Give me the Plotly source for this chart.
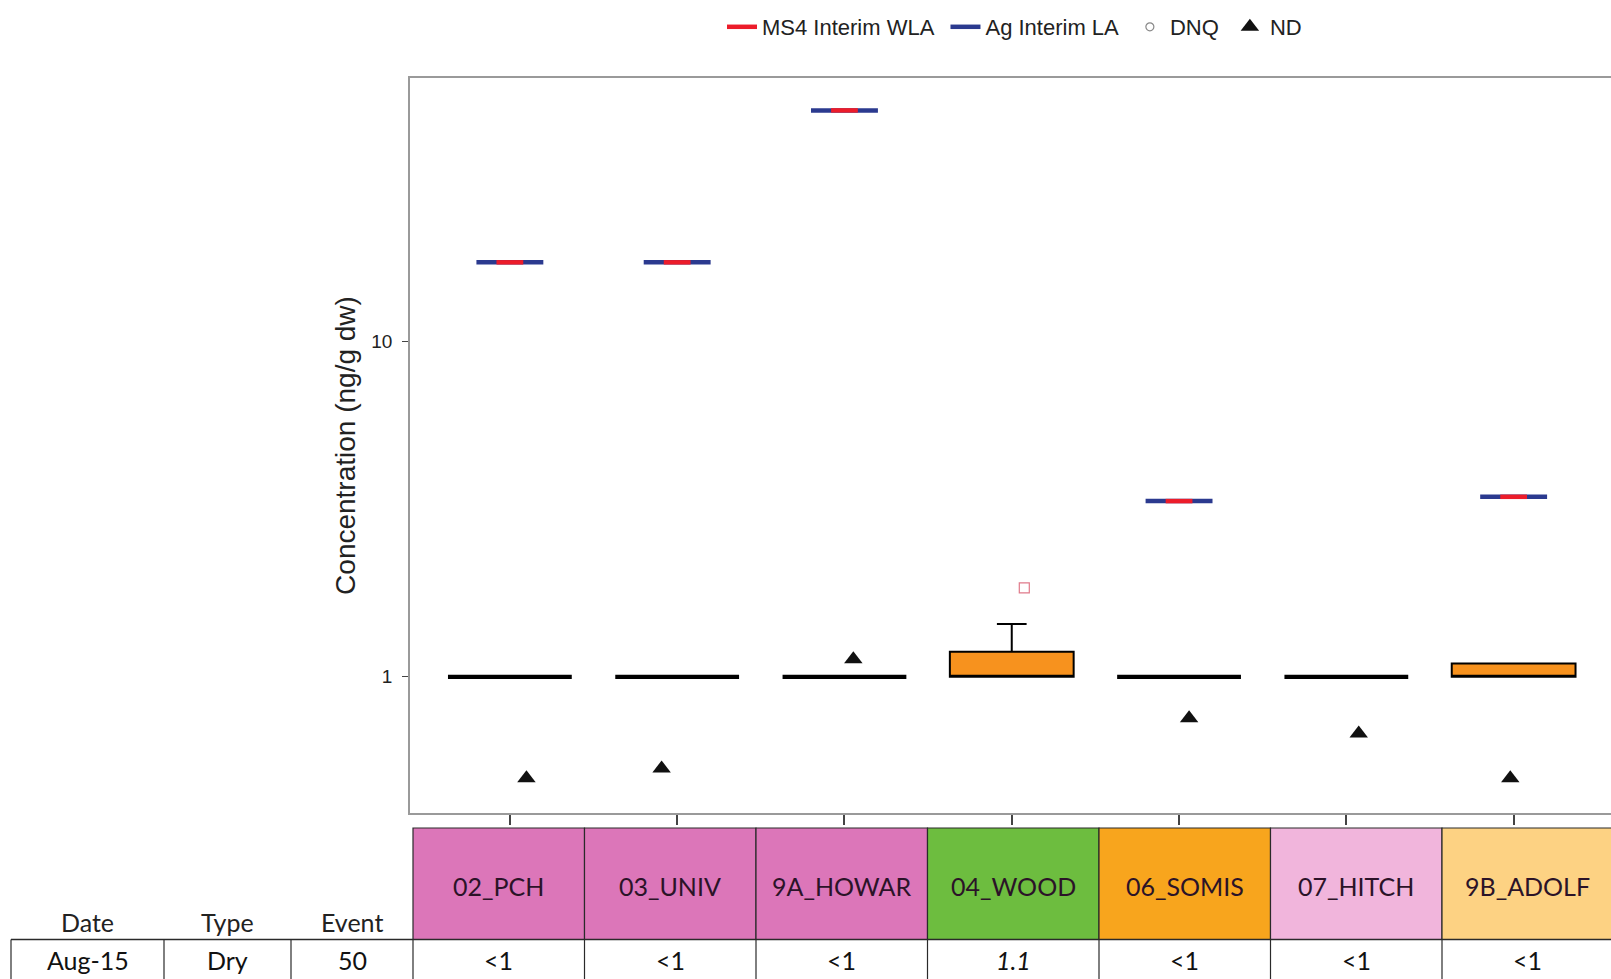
import plotly.graph_objects as go

# ---------------- data ----------------
sites = ["02_PCH", "03_UNIV", "9A_HOWAR", "04_WOOD", "06_SOMIS", "07_HITCH", "9B_ADOLF"]
site_colors = ["#dc76b9", "#dc76b9", "#dc76b9", "#6dbd3f", "#f8a51d", "#f1b5dc", "#fdd283"]

box_q1 = [1, 1, 1, 1, 1, 1, 1]
box_median = [1, 1, 1, 1, 1, 1, 1]
box_q3 = [1, 1, 1, 1.187, 1, 1, 1.096]
box_lower = [1, 1, 1, 1, 1, 1, 1]
box_upper = [1, 1, 1, 1.438, 1, 1, 1.096]

ms4_wla = [17.2, 17.2, 48.8, None, 3.34, None, 3.44]
ag_la = [17.2, 17.2, 48.8, None, 3.34, None, 3.44]

dnq_sites = ["04_WOOD"]
dnq_values = [1.84]
dnq_jitter = [0.075]

nd_sites = ["02_PCH", "03_UNIV", "9A_HOWAR", "06_SOMIS", "07_HITCH", "9B_ADOLF"]
nd_values = [0.498, 0.533, 1.129, 0.752, 0.678, 0.498]
nd_jitter = [0.099, -0.093, 0.053, 0.06, 0.074, -0.02]

table_results = ["<1", "<1", "<1", "1.1", "<1", "<1", "<1"]
info_headers = ["Date", "Type", "Event"]
info_values = ["Aug-15", "Dry", "50"]

# ---------------- layout geometry (pixels) ----------------
FW, FH = 1611, 979
L, R, T, B = 410, 1611, 78, 813
PW, PH = R - L, B - T


def xp(px):
    return (px - L) / PW


def yp(py):
    return (B - py) / PH


idx = {s: i for i, s in enumerate(sites)}
fig = go.Figure()
PAD = "\u00a0"

# boxes
flat = [i for i in range(len(sites)) if box_q3[i] == box_q1[i] and box_upper[i] == box_q3[i]]
full = [i for i in range(len(sites)) if i not in flat]
for group, lw in ((flat, 4.2), (full, 2)):
    fig.add_trace(go.Box(
        x=[i for i in group],
        q1=[box_q1[i] for i in group],
        median=[box_median[i] for i in group],
        q3=[box_q3[i] for i in group],
        lowerfence=[box_lower[i] for i in group],
        upperfence=[box_upper[i] for i in group],
        width=0.74, whiskerwidth=0.24,
        fillcolor="#f7921e", line=dict(color="black", width=lw),
        boxpoints=False, showlegend=False, hoverinfo="skip",
    ))

# limit lines
def seg(vals, half):
    xs, ys = [], []
    for i, v in enumerate(vals):
        if v is None:
            continue
        xs += [i - half, i + half, None]
        ys += [v, v, None]
    return xs, ys

bx, by = seg(ag_la, 0.2)
rx, ry = seg(ms4_wla, 0.08)
fig.add_trace(go.Scatter(x=bx, y=by, mode="lines", name="Ag Interim LA" + PAD,
                         line=dict(color="#2b3a8f", width=4.5), legendrank=2, hoverinfo="skip"))
fig.add_trace(go.Scatter(x=rx, y=ry, mode="lines", name="MS4 Interim WLA" + PAD,
                         line=dict(color="#ec1c2a", width=4.5), legendrank=1, hoverinfo="skip"))

# DNQ
fig.add_trace(go.Scatter(x=[idx[s] + j for s, j in zip(dnq_sites, dnq_jitter)], y=dnq_values,
                         mode="markers", showlegend=False,
                         marker=dict(symbol="square-open", size=10, color="#e07a8a", line=dict(width=1.2))))
fig.add_trace(go.Scatter(x=[None], y=[None], mode="markers", name="DNQ" + PAD, legendrank=3,
                         marker=dict(symbol="circle-open", size=8, color="#888888", line=dict(width=1.2))))
# ND
fig.add_trace(go.Scatter(x=[idx[s] + j for s, j in zip(nd_sites, nd_jitter)], y=nd_values,
                         mode="markers", name="ND", legendrank=4,
                         marker=dict(symbol="triangle-up", size=16, color="#111111")))

# ---------------- table ----------------
shapes = []
annotations = []
col_w = 171.5
tab_x0 = 413
hdr_top, hdr_bot, row_bot = 828, 939.5, 990
line_c = "#2a2a2a"
n = len(sites)
for i, s in enumerate(sites):
    x0 = tab_x0 + col_w * i
    x1 = x0 + col_w
    shapes.append(dict(type="rect", xref="paper", yref="paper", x0=xp(x0), x1=xp(x1),
                       y0=yp(hdr_bot), y1=yp(hdr_top), fillcolor=site_colors[i],
                       line=dict(color=line_c, width=1.2), layer="above"))
    shapes.append(dict(type="line", xref="paper", yref="paper", x0=xp(x0), x1=xp(x0),
                       y0=yp(row_bot), y1=yp(hdr_bot), line=dict(color=line_c, width=1.2)))
    annotations.append(dict(xref="paper", yref="paper", x=xp((x0 + x1) / 2), y=yp(885.5),
                            text=s, showarrow=False, xanchor="center", yanchor="middle",
                            font=dict(family="Lato", size=25, color="#2b1328")))
    res = table_results[i]
    txt = res if res.startswith("<") else "<i>" + res + "</i>"
    annotations.append(dict(xref="paper", yref="paper", x=xp((x0 + x1) / 2), y=yp(960),
                            text=txt.replace("<1", "&lt;1"), showarrow=False, xanchor="center",
                            yanchor="middle", font=dict(family="Lato", size=25, color="#111111")))

info_bounds = [11, 164, 291, 413]
for k in range(3):
    x0, x1 = info_bounds[k], info_bounds[k + 1]
    shapes.append(dict(type="line", xref="paper", yref="paper", x0=xp(x0), x1=xp(x0),
                       y0=yp(row_bot), y1=yp(hdr_bot), line=dict(color=line_c, width=1.2)))
    annotations.append(dict(xref="paper", yref="paper", x=xp((x0 + x1) / 2), y=yp(922),
                            text=info_headers[k], showarrow=False, xanchor="center", yanchor="middle",
                            font=dict(family="Lato", size=25, color="#222222")))
    annotations.append(dict(xref="paper", yref="paper", x=xp((x0 + x1) / 2), y=yp(960),
                            text=info_values[k], showarrow=False, xanchor="center", yanchor="middle",
                            font=dict(family="Lato", size=25, color="#111111")))
shapes.append(dict(type="line", xref="paper", yref="paper", x0=xp(11), x1=xp(FW + 5),
                   y0=yp(hdr_bot), y1=yp(hdr_bot), line=dict(color=line_c, width=1.5)))

fig.update_layout(
    width=FW, height=FH,
    margin=dict(l=L, r=FW - R, t=T, b=FH - B, pad=0),
    paper_bgcolor="white", plot_bgcolor="white",
    font=dict(family="Liberation Sans", color="#222222"),
    showlegend=True,
    legend=dict(orientation="h", xref="container", yref="container", x=722 / FW, y=1 - 6 / FH,
                xanchor="left", yanchor="top", font=dict(size=22, family="Liberation Sans", color="#222"),
                itemwidth=30, bgcolor="rgba(0,0,0,0)"),
    xaxis=dict(range=[-0.597, 6.582], tickvals=list(range(n)), showticklabels=False,
               ticks="outside", ticklen=10, tickwidth=1.5, tickcolor="#444",
               showline=True, linecolor="#9a9a9a", linewidth=1.5, mirror=True,
               showgrid=False, zeroline=False),
    yaxis=dict(type="log", range=[-0.406, 1.785], tickvals=[1, 10], ticktext=["1", "10"],
               ticks="outside", ticklen=6, tickwidth=1.3, tickcolor="#444",
               ticklabelstandoff=6,
               tickfont=dict(size=19, family="Liberation Sans", color="#222"),
               showline=True, linecolor="#9a9a9a", linewidth=1.5, showgrid=False, zeroline=False,
               title=dict(text="Concentration (ng/g dw)", standoff=8,
                          font=dict(size=28, family="Liberation Sans", color="#222"))),
    shapes=shapes, annotations=annotations,
)

fig.write_html("out.html")
